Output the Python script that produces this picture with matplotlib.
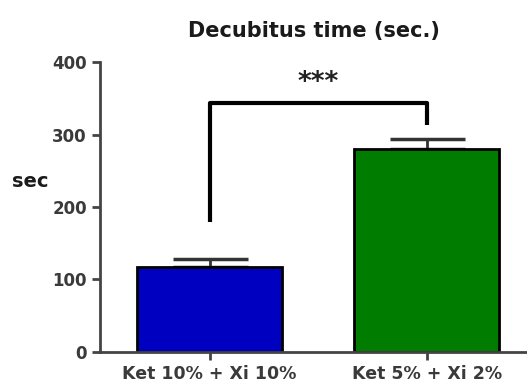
import matplotlib
matplotlib.use("Agg")
import matplotlib.pyplot as plt

groups = ["Ket 10% + Xi 10%", "Ket 5% + Xi 2%"]
means = [117, 280]
errors = [11, 14]
colors = ["#0000c0", "#007d00"]

plt.rcParams['font.family'] = ['DejaVu Sans']

fig = plt.figure(figsize=(5.27, 3.83), dpi=100)
ax = fig.add_axes([0.19, 0.081, 0.81, 0.757])

x = [0, 1]
ax.bar(x, means, width=0.67, color=colors, edgecolor="black", linewidth=2, zorder=2)
ax.errorbar(x, means, yerr=[[0, 0], errors], fmt="none", ecolor="#333333",
            elinewidth=2, capsize=27, capthick=2.5, zorder=1)

# significance bracket
ax.plot([0, 0, 1, 1], [180, 343, 343, 313], color="black", lw=3, solid_capstyle="butt")
ax.text(0.5, 371, "***", ha="center", va="center", fontsize=19, fontweight="bold",
        color="#222222")

ax.set_xlim(-0.505, 1.463)
ax.set_ylim(0, 400)
ax.set_yticks([0, 100, 200, 300, 400])
ax.set_xticks(x)
ax.set_xticklabels(groups)

for s in ["top", "right"]:
    ax.spines[s].set_visible(False)
for s in ["left", "bottom"]:
    ax.spines[s].set_linewidth(2)
    ax.spines[s].set_color("#444444")
ax.tick_params(axis="both", width=2, length=6, color="#444444",
               labelsize=12.5, labelcolor="#3a3a3a")
ax.tick_params(axis="y", labelsize=12)
for lbl in ax.get_xticklabels() + ax.get_yticklabels():
    lbl.set_fontweight("bold")

fig.text(0.596, 0.92, "Decubitus time (sec.)", ha="center", va="center",
         fontsize=15, fontweight="bold", color="#1a1a1a")
fig.text(0.022, 0.525, "sec", ha="left", va="center", fontsize=14, fontweight="bold",
         color="#1a1a1a")

fig.savefig("out.png", dpi=100)
